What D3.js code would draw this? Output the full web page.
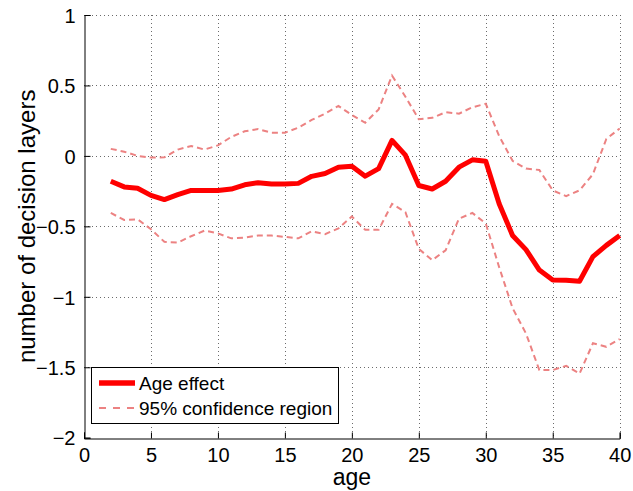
<!DOCTYPE html>
<html>
<head>
<meta charset="utf-8">
<script src="https://cdn.jsdelivr.net/npm/d3@7"></script>
<style>
  html, body { margin: 0; padding: 0; background: #fff; }
  svg { display: block; font-family: Arial, "Liberation Sans", Helvetica, sans-serif; }
</style>
</head>
<body>
<svg id="chart" width="633" height="491"></svg>
<script>
// ages 2..40
const AGES = d3.range(2, 41);
const AGE_EFFECT = [
  -0.18, -0.22, -0.23, -0.28, -0.31, -0.275, -0.245, -0.245, -0.245, -0.235,
  -0.205, -0.19, -0.20, -0.20, -0.195, -0.145, -0.125, -0.08, -0.073, -0.144,
  -0.09, 0.11, 0.005, -0.21, -0.235, -0.18, -0.08, -0.028, -0.038, -0.34,
  -0.565, -0.665, -0.81, -0.88, -0.882, -0.89, -0.715, -0.635, -0.565,
];
const CI_UPPER = [
  0.05, 0.03, 0.0, -0.012, -0.01, 0.045, 0.07, 0.045, 0.075, 0.135,
  0.175, 0.19, 0.165, 0.165, 0.2, 0.255, 0.30, 0.355, 0.29, 0.235,
  0.33, 0.57, 0.42, 0.26, 0.27, 0.31, 0.30, 0.345, 0.37, 0.14,
  -0.035, -0.09, -0.10, -0.245, -0.285, -0.245, -0.13, 0.12, 0.195,
];
const CI_LOWER = [
  -0.405, -0.455, -0.45, -0.52, -0.61, -0.615, -0.57, -0.53, -0.55, -0.585,
  -0.58, -0.565, -0.565, -0.575, -0.585, -0.535, -0.555, -0.515, -0.43, -0.525,
  -0.525, -0.34, -0.40, -0.66, -0.74, -0.67, -0.445, -0.405, -0.48, -0.79,
  -1.08, -1.26, -1.52, -1.52, -1.49, -1.545, -1.33, -1.355, -1.30,
];
const X_TICKS = [0, 5, 10, 15, 20, 25, 30, 35, 40];
const Y_TICKS = [1, 0.5, 0, -0.5, -1, -1.5, -2];
const LEGEND = ['Age effect', '95% confidence region'];

const MAIN = '#ff0000', CI = '#ec8282';
const L = 84, R = 619.7, T = 15, B = 437.7;

const svg = d3.select('#chart');
const x = d3.scaleLinear().domain([0, 40]).range([L, R]);
const y = d3.scaleLinear().domain([-2, 1]).range([B, T]);
const fmt = (v) => String(v).replace('-', '\u2212');

// dotted grid
const grid = svg.append('g').attr('stroke', '#6b6b6b').attr('stroke-width', 1).attr('stroke-dasharray', '1,3');
grid.selectAll('.gx').data(X_TICKS.filter((d) => d > 0)).join('line')
  .attr('x1', (d) => Math.round(x(d)) + 0.5).attr('x2', (d) => Math.round(x(d)) + 0.5)
  .attr('y1', T).attr('y2', B);
grid.selectAll('.gy').data(Y_TICKS.filter((d) => d > -2)).join('line')
  .attr('y1', (d) => Math.round(y(d)) + 0.5).attr('y2', (d) => Math.round(y(d)) + 0.5)
  .attr('x1', L).attr('x2', R);

// axes (MATLAB style: ticks inward, box off)
const xAxis = svg.append('g').attr('transform', `translate(0,${Math.round(B) + 0.5})`)
  .call(d3.axisBottom(x).tickValues(X_TICKS).tickSize(-6).tickPadding(9).tickFormat(fmt));
const yAxis = svg.append('g').attr('transform', `translate(${L + 0.5},0)`)
  .call(d3.axisLeft(y).tickValues(Y_TICKS).tickSize(-6).tickPadding(9).tickFormat(fmt));
[xAxis, yAxis].forEach((a) => {
  a.select('.domain').attr('stroke', '#000');
  a.selectAll('.tick line').attr('stroke', '#000');
  a.selectAll('.tick text').attr('fill', '#000').attr('font-size', 20).attr('font-family', 'Arial, "Liberation Sans", sans-serif');
});
yAxis.selectAll('.tick text').attr('dy', '0.36em');
xAxis.selectAll('.tick text').attr('dy', '0.72em');

// series
const line = (vals) => d3.line().x((d, i) => x(AGES[i])).y((d) => y(d))(vals);
svg.append('path').attr('d', line(CI_UPPER)).attr('fill', 'none').attr('stroke', CI)
  .attr('stroke-width', 2).attr('stroke-dasharray', '6,4');
svg.append('path').attr('d', line(CI_LOWER)).attr('fill', 'none').attr('stroke', CI)
  .attr('stroke-width', 2).attr('stroke-dasharray', '6,4');
svg.append('path').attr('d', line(AGE_EFFECT)).attr('fill', 'none').attr('stroke', MAIN)
  .attr('stroke-width', 5).attr('stroke-linejoin', 'round');

// labels
svg.append('text').attr('x', (L + R) / 2).attr('y', 485).attr('text-anchor', 'middle')
  .attr('font-size', 23).text('age');
svg.append('text').attr('transform', `translate(35,${(T + B) / 2}) rotate(-90)`)
  .attr('text-anchor', 'middle').attr('font-size', 24).text('number of decision layers');

// legend
const lg = svg.append('g');
lg.append('rect').attr('x', 91.5).attr('y', 367.5).attr('width', 247).attr('height', 56)
  .attr('fill', '#fff').attr('stroke', '#000').attr('stroke-width', 1);
const rows = [{ label: LEGEND[0], color: MAIN, w: 5.5, dash: null, y: 383 },
  { label: LEGEND[1], color: CI, w: 2, dash: '7,7', y: 408 }];
rows.forEach((r) => {
  lg.append('line').attr('x1', 99).attr('x2', 135).attr('y1', r.y).attr('y2', r.y)
    .attr('stroke', r.color).attr('stroke-width', r.w).attr('stroke-dasharray', r.dash);
  lg.append('text').attr('x', 139).attr('y', r.y).attr('dy', '0.36em').attr('font-size', 19).text(r.label);
});
</script>
</body>
</html>
